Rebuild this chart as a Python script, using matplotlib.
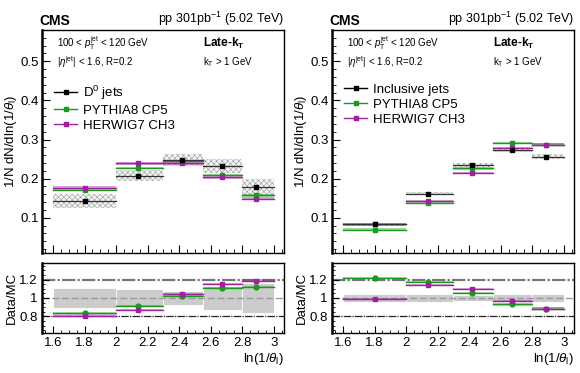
import numpy as np
import matplotlib
matplotlib.use("Agg")
import matplotlib.pyplot as plt
from matplotlib.patches import Rectangle
from matplotlib.lines import Line2D
from matplotlib.ticker import MultipleLocator

plt.rcParams["font.family"] = ["Liberation Sans", "DejaVu Sans"]
plt.rcParams["mathtext.fontset"] = "custom"
plt.rcParams["mathtext.rm"] = "Liberation Sans"
plt.rcParams["mathtext.it"] = "Liberation Sans:italic"
plt.rcParams["mathtext.bf"] = "Liberation Sans:bold"
plt.rcParams["hatch.linewidth"] = 0.4

# bins in ln(1/theta)
bin_lo = [1.6, 2.0, 2.3, 2.55, 2.8]
bin_hi = [2.0, 2.3, 2.55, 2.8, 3.0]
x_pts = [1.80, 2.14, 2.42, 2.67, 2.89]

# left: D0 jets
d0_data = [0.144, 0.208, 0.248, 0.232, 0.178]
d0_err = [0.018, 0.015, 0.015, 0.017, 0.022]
d0_pythia = [0.171, 0.228, 0.245, 0.209, 0.157]
d0_herwig = [0.177, 0.239, 0.239, 0.203, 0.149]
d0_r_pythia = [0.84, 0.91, 1.02, 1.11, 1.12]
d0_r_herwig = [0.81, 0.87, 1.04, 1.15, 1.19]
d0_r_band = [0.105, 0.10, 0.08, 0.135, 0.16]

# right: inclusive jets
inc_data = [0.083, 0.162, 0.236, 0.272, 0.256]
inc_err = [0.003, 0.004, 0.005, 0.005, 0.006]
inc_pythia = [0.070, 0.138, 0.226, 0.292, 0.287]
inc_herwig = [0.083, 0.143, 0.215, 0.279, 0.287]
inc_r_pythia = [1.22, 1.17, 1.055, 0.93, 0.885]
inc_r_herwig = [0.985, 1.14, 1.10, 0.97, 0.885]
inc_r_band = [0.045, 0.04, 0.03, 0.04, 0.04]

GREEN = "#1a9a1a"
MAG = "#a020a0"

fig = plt.figure(figsize=(5.8, 3.73), dpi=100)


def draw_main(ax, data, err, pyth, herw, label):
    for lo, hi, x, d, e, p, h in zip(bin_lo, bin_hi, x_pts, data, err, pyth, herw):
        ax.add_patch(Rectangle((lo, d - e), hi - lo, 2 * e, facecolor="#f4f4f4",
                               edgecolor="#9a9a9a", hatch="xxxxxx", lw=0, zorder=1))
        ax.add_patch(Rectangle((lo, p - 0.003), hi - lo, 0.006, facecolor=GREEN,
                               alpha=0.4, lw=0, zorder=2))
        ax.add_patch(Rectangle((lo, h - 0.003), hi - lo, 0.006, facecolor=MAG,
                               alpha=0.4, lw=0, zorder=2))
        ax.plot([lo, hi], [p, p], color=GREEN, lw=1.0, zorder=3)
        ax.plot([lo, hi], [h, h], color=MAG, lw=1.0, zorder=3)
        ax.plot([lo, hi], [d, d], color="#333333", lw=0.9, zorder=4)
        ax.plot([x], [p], "s", color=GREEN, ms=3.5, zorder=5)
        ax.plot([x], [h], "s", color=MAG, ms=3.5, zorder=5)
        ax.plot([x], [d], "s", color="black", ms=3.5, zorder=6)
    ax.set_xlim(1.53, 3.065)
    ax.set_ylim(0.01, 0.58)
    ax.yaxis.set_major_locator(MultipleLocator(0.1))
    ax.yaxis.set_minor_locator(MultipleLocator(0.02))
    ax.xaxis.set_major_locator(MultipleLocator(0.2))
    ax.xaxis.set_minor_locator(MultipleLocator(0.05))
    ax.tick_params(which="both", direction="in", labelbottom=False, labelsize=9.5, pad=2)
    ax.tick_params(which="major", length=6)
    ax.tick_params(which="minor", length=3)
    ax.set_ylabel(r"1/N dN/dln(1/$\theta_{\rm l}$)", fontsize=9.5, labelpad=1)
    ax.text(-0.01, 1.01, "CMS", transform=ax.transAxes, fontsize=10,
            fontweight="bold", ha="left", va="bottom")
    ax.text(1.0, 1.01, r"pp 301pb$^{-1}$ (5.02 TeV)", transform=ax.transAxes,
            fontsize=9, ha="right", va="bottom")
    ax.text(0.06, 0.94, r"100 < $p_{\rm T}^{\rm jet}$ < 120 GeV", transform=ax.transAxes,
            fontsize=7, va="center")
    ax.text(0.06, 0.855, r"|$\eta^{\rm jet}$| < 1.6, R=0.2", transform=ax.transAxes,
            fontsize=7, va="center")
    ax.text(0.665, 0.94, r"Late-k$_{\rm \mathbf{T}}$", transform=ax.transAxes,
            fontsize=8.5, fontweight="bold", va="center")
    ax.text(0.665, 0.855, r"k$_{\rm T}$ > 1 GeV", transform=ax.transAxes,
            fontsize=7, va="center")
    handles = [
        Line2D([], [], color="black", marker="s", ms=3.5, lw=1),
        Line2D([], [], color=GREEN, marker="s", ms=3.5, lw=1),
        Line2D([], [], color=MAG, marker="s", ms=3.5, lw=1),
    ]
    ax.legend(handles, [label, "PYTHIA8 CP5", "HERWIG7 CH3"], loc="upper left",
              bbox_to_anchor=(0.01, 0.8), frameon=False, fontsize=9.5,
              handlelength=1.8, handletextpad=0.4, labelspacing=0.2,
              borderpad=0.2)


def draw_ratio(ax, rp, rh, band):
    for lo, hi, x, p, h, b in zip(bin_lo, bin_hi, x_pts, rp, rh, band):
        ax.add_patch(Rectangle((lo, 1 - b), hi - lo, 2 * b, facecolor="#cccccc",
                               edgecolor="white", lw=0.6, zorder=1))
        ax.add_patch(Rectangle((lo, p - 0.012), hi - lo, 0.024, facecolor=GREEN,
                               alpha=0.35, lw=0, zorder=2))
        ax.add_patch(Rectangle((lo, h - 0.012), hi - lo, 0.024, facecolor=MAG,
                               alpha=0.35, lw=0, zorder=2))
        ax.plot([lo, hi], [p, p], color=GREEN, lw=1.0, zorder=3)
        ax.plot([lo, hi], [h, h], color=MAG, lw=1.0, zorder=3)
        ax.plot([x], [p], "o", color=GREEN, ms=3.5, zorder=5)
        ax.plot([x], [h], "s", color=MAG, ms=3.5, zorder=5)
    ax.axhline(1.2, color="#777777", lw=1.6, ls=(0, (6, 1, 1, 1)), zorder=0)
    ax.axhline(1.0, color="#999999", lw=1.0, ls=(0, (5, 2)), zorder=1.5)
    ax.axhline(0.8, color="#222222", lw=0.9, ls=(0, (6, 1, 1, 1)), zorder=0)
    ax.set_xlim(1.53, 3.065)
    ax.set_ylim(0.62, 1.38)
    ax.set_yticks([0.8, 1.0, 1.2])
    ax.set_yticklabels(["0.8", "1", "1.2"])
    ax.yaxis.set_minor_locator(MultipleLocator(0.05))
    ax.xaxis.set_minor_locator(MultipleLocator(0.05))
    ax.set_xticks([1.6, 1.8, 2.0, 2.2, 2.4, 2.6, 2.8, 3.0])
    ax.set_xticklabels(["1.6", "1.8", "2", "2.2", "2.4", "2.6", "2.8", "3"])
    ax.tick_params(which="both", direction="in", labelsize=9.5, pad=3)
    ax.tick_params(which="major", length=5)
    ax.tick_params(which="minor", length=2.5)
    ax.set_ylabel("Data/MC", fontsize=9.5, labelpad=1)
    ax.set_xlabel(r"ln(1/$\theta_{\rm l}$)", fontsize=9.5, loc="right", labelpad=1)


for x0, data, err, pyth, herw, rp, rh, band, label in [
    (42, d0_data, d0_err, d0_pythia, d0_herwig, d0_r_pythia, d0_r_herwig, d0_r_band, r"D$^{0}$ jets"),
    (332, inc_data, inc_err, inc_pythia, inc_herwig, inc_r_pythia, inc_r_herwig, inc_r_band, "Inclusive jets"),
]:
    w = 242
    ax_m = fig.add_axes([x0 / 580, 1 - 253 / 373, w / 580, 223 / 373])
    ax_r = fig.add_axes([x0 / 580, 1 - 333 / 373, w / 580, 70 / 373])
    for a in (ax_m, ax_r):
        for s in a.spines.values():
            s.set_linewidth(1.0)
        a.spines["left"].set_linewidth(1.8)
    draw_main(ax_m, data, err, pyth, herw, label)
    draw_ratio(ax_r, rp, rh, band)

fig.savefig("out.png", dpi=100)
